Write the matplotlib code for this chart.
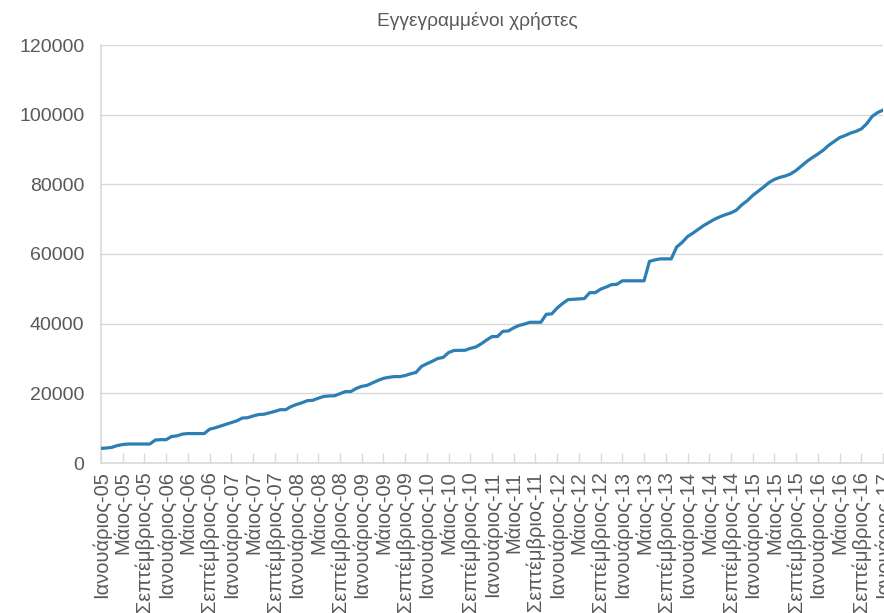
import numpy as np
import matplotlib
matplotlib.use("Agg")
import matplotlib.pyplot as plt

plt.rcParams['font.family'] = ['Liberation Sans', 'DejaVu Sans']

# monthly registered users, Jan 2005 .. Jan 2017
users = [
    4200, 4300, 4500, 5000, 5300, 5450, 5450, 5450, 5450, 5450, 6600, 6700,
    6700, 7600, 7800, 8300, 8450, 8450, 8450, 8450, 9700, 10100, 10600, 11100,
    11600, 12100, 12900, 13000, 13500, 13900, 14000, 14400, 14800, 15300, 15300, 16200,
    16800, 17300, 17900, 18000, 18600, 19100, 19250, 19300, 19900, 20500, 20500, 21400,
    22000, 22300, 23000, 23700, 24300, 24600, 24800, 24800, 25100, 25600, 26000, 27700,
    28500, 29200, 30000, 30300, 31700, 32300, 32350, 32350, 32900, 33300, 34200, 35300,
    36300, 36300, 37800, 37900, 38800, 39500, 39900, 40400, 40400, 40400, 42700, 42800,
    44500, 45800, 46900, 47000, 47100, 47200, 48900, 48900, 49900, 50500, 51200, 51300,
    52300, 52300, 52300, 52300, 52300, 57900, 58300, 58600, 58600, 58600, 62000, 63300,
    65000, 66000, 67100, 68200, 69100, 70000, 70700, 71300, 71800, 72600, 74100, 75300,
    76800, 78000, 79200, 80500, 81400, 82000, 82400, 83000, 84000, 85300, 86600, 87700,
    88700, 89800, 91200, 92300, 93400, 94000, 94700, 95200, 95900, 97400, 99500, 100600,
    101300,
]
month_names = ['Ιανουάριος', 'Φεβρουάριος', 'Μάρτιος', 'Απρίλιος', 'Μάιος', 'Ιούνιος',
               'Ιούλιος', 'Αύγουστος', 'Σεπτέμβριος', 'Οκτώβριος', 'Νοέμβριος', 'Δεκέμβριος']
years = list(range(5, 18))
labels = [f"{month_names[i % 12]}-{years[i // 12]:02d}" for i in range(len(users))]
yticks = [0, 20000, 40000, 60000, 80000, 100000, 120000]

grey = '#595959'
light = '#d9d9d9'

fig = plt.figure(figsize=(8.84, 6.13), dpi=100)
ax = fig.add_axes([101 / 884, 1 - 463 / 613, 782 / 884, 418 / 613])

x = np.arange(len(users))
ax.plot(x, users, color='#2b7fb3', lw=2.3, solid_joinstyle='round', zorder=3)

ax.set_xlim(0, len(users) - 1)
ax.set_ylim(0, 120000)
ax.set_yticks(yticks)
ax.set_yticklabels([str(v) for v in yticks])
ax.yaxis.grid(True, color=light, lw=1)
ax.set_axisbelow(True)

ticks = x[::4]
ax.set_xticks(ticks)
ax.set_xticklabels([labels[i] for i in ticks], rotation=90, va='top', ha='center')

for s in ['top', 'right']:
    ax.spines[s].set_visible(False)
for s in ['left', 'bottom']:
    ax.spines[s].set_color(light)
    ax.spines[s].set_linewidth(1.2)

ax.tick_params(axis='x', direction='in', length=7, width=1, color=light,
               labelsize=14.5, labelcolor=grey, pad=6)
ax.tick_params(axis='y', length=0, labelsize=14, labelcolor=grey, pad=12)

fig.text(477 / 884, 1 - 21 / 613, 'Εγγεγραμμένοι χρήστες', ha='center', va='center',
         fontsize=13.8, color=grey)

fig.savefig('out.png', dpi=100)
